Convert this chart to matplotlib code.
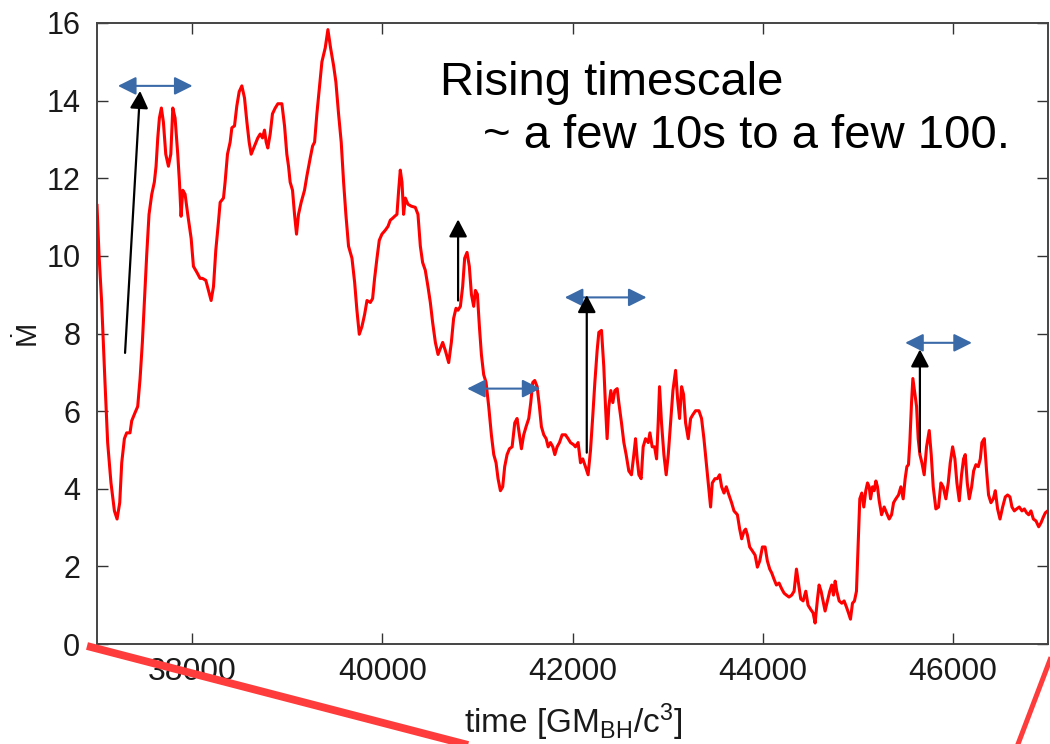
import matplotlib
matplotlib.use('Agg')
import matplotlib.pyplot as plt
from matplotlib.patches import FancyArrowPatch
from matplotlib.lines import Line2D
from matplotlib import font_manager

# ---------------- data ----------------
time = [37000, 37021, 37049, 37084, 37112, 37147, 37183, 37211, 37239, 37260,
        37288, 37312, 37347, 37365, 37400, 37428, 37453, 37477, 37498, 37523,
        37547, 37576, 37603, 37621, 37639, 37656, 37677, 37698, 37723, 37751,
        37776, 37797, 37821, 37849, 37867, 37884, 37902, 37926, 37954, 37990,
        38014, 38049, 38084, 38109, 38144, 38172, 38200, 38225, 38249, 38277,
        38295, 38330, 38347, 38372, 38400, 38418, 38446, 38470, 38495, 38523,
        38551, 38576, 38600, 38621, 38656,
        38691, 38716, 38740, 38761, 38779, 38796, 38821, 38845, 38874, 38902,
        38944, 38972, 38996, 39014, 39031, 39056, 39077, 39098, 39119, 39147,
        39182, 39207, 39242, 39267, 39288, 39312, 39337, 39365, 39400, 39428,
        39456, 39488, 39512, 39540, 39568, 39593, 39617, 39645, 39681, 39709,
        39733, 39758, 39786, 39814, 39839, 39874, 39898, 39919, 39944, 39968,
        39996, 40031, 40060, 40084, 40109, 40130, 40154, 40172, 40189, 40207,
        40224, 40242, 40270, 40305,
        40347, 40375, 40400, 40424, 40452, 40480, 40505, 40529, 40558, 40586,
        40610, 40635, 40663, 40698, 40726, 40750, 40775, 40796, 40821, 40845,
        40866, 40891, 40915, 40937, 40961, 40979, 41000, 41021, 41042, 41066,
        41091, 41119, 41147, 41172, 41196, 41217, 41242, 41266, 41287, 41312,
        41337, 41365, 41393, 41417, 41442, 41463, 41487, 41512, 41540, 41561,
        41582, 41603, 41628, 41652, 41673, 41698, 41723, 41744, 41768, 41793,
        41814, 41838, 41863, 41891, 41926, 41954, 41979, 42014,
        42031, 42059, 42084, 42108, 42136, 42164, 42189, 42214, 42235, 42259,
        42277, 42305, 42329, 42347, 42364, 42382, 42403, 42424, 42445, 42470,
        42487, 42515, 42540, 42564, 42592, 42620, 42645, 42663, 42680, 42698,
        42722, 42743, 42768, 42796, 42814, 42838, 42863, 42884, 42901, 42915,
        42936, 42961, 42985, 43007, 43031, 43056, 43084, 43105, 43126, 43147,
        43168, 43189, 43217, 43242, 43266, 43294, 43329, 43357, 43382, 43407,
        43428, 43452, 43470, 43498, 43522, 43547, 43568, 43593, 43617, 43645,
        43673, 43698,
        43734, 43758, 43779, 43804, 43821, 43839, 43863, 43891, 43920, 43944,
        43969, 43997, 44025, 44049, 44074, 44095, 44119, 44144, 44172, 44200,
        44225, 44249, 44277, 44305, 44330, 44355, 44376, 44400, 44425, 44453,
        44477, 44502, 44530, 44551, 44576, 44593, 44614, 44635, 44656, 44681,
        44705, 44726, 44744, 44762, 44779, 44804, 44832, 44856, 44881, 44902,
        44923, 44944, 44965, 44986, 45004, 45021, 45042, 45063, 45084, 45102,
        45120, 45134, 45155, 45172, 45190, 45207, 45225, 45250, 45277, 45302,
        45330, 45355, 45376,
        45400, 45428, 45453, 45477, 45498, 45516, 45533, 45547, 45565, 45579,
        45596, 45618, 45635, 45653, 45674, 45698, 45723, 45751, 45772, 45793,
        45821, 45849, 45874, 45898, 45926, 45951, 45972, 45997, 46021, 46042,
        46067, 46091, 46112, 46130, 46151, 46172, 46197, 46218, 46242, 46267,
        46288, 46305, 46330, 46354, 46375, 46400, 46425, 46446, 46470, 46495,
        46523, 46551, 46575, 46600, 46621, 46646, 46670, 46698, 46726, 46751,
        46775, 46797, 46821, 46846, 46874, 46902, 46926, 46951, 46972, 46997]

mdot = [11.30, 10.04, 8.80, 6.74, 5.19, 4.15, 3.43, 3.22, 3.64, 4.67,
        5.29, 5.44, 5.44, 5.75, 5.96, 6.12, 6.84, 7.77, 8.80, 10.04,
        11.07, 11.59, 11.90, 12.31, 13.04, 13.55, 13.81, 13.45, 12.62, 12.31,
        12.62, 13.81, 13.55, 12.62, 11.90, 11.02, 11.69, 11.59, 11.07, 10.45,
        9.73, 9.58, 9.42, 9.42, 9.37, 9.11, 8.85, 9.21, 10.14, 10.87,
        11.38, 11.49, 11.90, 12.62, 12.93, 13.30, 13.35, 13.86, 14.23, 14.38,
        14.07, 13.45, 12.93, 12.62, 12.83,
        13.04, 13.14, 13.04, 13.24, 12.93, 12.78, 13.14, 13.66, 13.81, 13.92,
        13.92, 13.35, 12.62, 12.31, 11.90, 11.69, 11.07, 10.56, 11.07, 11.38,
        11.69, 12.06, 12.52, 12.83, 12.93, 13.66, 14.28, 15.00, 15.36, 15.83,
        15.36, 14.90, 14.48, 13.66, 12.93, 11.90, 11.07, 10.25, 9.94, 9.32,
        8.60, 7.98, 8.18, 8.49, 8.85, 8.80, 8.90, 9.42, 9.94, 10.40,
        10.56, 10.66, 10.76, 10.92, 10.97, 11.02, 11.07, 11.69, 12.21, 11.90,
        11.07, 11.49, 11.33, 11.28,
        11.25, 11.07, 10.25, 9.83, 9.63, 9.21, 8.80, 8.29, 7.77, 7.46,
        7.61, 7.77, 7.56, 7.25, 7.77, 8.39, 8.65, 8.60, 8.70, 9.21,
        9.94, 10.09, 9.73, 9.01, 8.70, 9.11, 9.01, 8.18, 7.46, 6.94,
        6.74, 6.12, 5.39, 4.88, 4.67, 4.26, 3.95, 4.05, 4.57, 4.88,
        5.03, 5.08, 5.70, 5.81, 5.39, 5.03, 5.39, 5.60, 5.81, 6.22,
        6.74, 6.79, 6.63, 6.12, 5.60, 5.39, 5.29, 5.08, 5.19, 5.08,
        4.88, 5.08, 5.19, 5.39, 5.39, 5.29, 5.19, 5.13,
        5.08, 5.19, 4.67, 4.77, 4.57, 4.36, 4.98, 5.91, 6.74, 7.56,
        8.03, 8.08, 7.15, 6.12, 5.29, 6.12, 6.53, 6.22, 6.53, 6.58,
        6.22, 5.70, 5.19, 4.88, 4.46, 4.36, 4.88, 5.29, 4.77, 4.36,
        4.26, 5.08, 5.29, 5.19, 5.44, 5.08, 5.08, 4.77, 5.70, 6.63,
        5.70, 4.88, 4.36, 4.88, 5.70, 6.53, 7.05, 6.32, 5.81, 6.63,
        6.43, 5.70, 5.29, 5.81, 5.91, 6.01, 6.01, 5.81, 5.29, 4.67,
        4.15, 3.53, 4.15, 4.26, 4.26, 4.36, 4.05, 3.89, 4.05, 3.84,
        3.64, 3.43,
        3.33, 2.96, 2.71, 2.91, 2.96, 2.81, 2.50, 2.40, 2.29, 1.98,
        2.14, 2.50, 2.50, 2.14, 1.93, 1.83, 1.67, 1.52, 1.57, 1.42,
        1.31, 1.26, 1.21, 1.26, 1.36, 1.93, 1.57, 1.16, 1.11, 1.36,
        1.00, 0.90, 0.80, 0.54, 1.16, 1.52, 1.36, 1.11, 0.85, 1.11,
        1.36, 1.52, 1.26, 1.62, 1.36, 1.11, 1.05, 1.11, 0.95, 0.80,
        0.64, 1.05, 1.11, 1.36, 2.60, 3.74, 3.89, 3.53, 3.95, 4.15,
        4.05, 3.74, 4.05, 3.95, 4.20, 4.05, 3.69, 3.33, 3.53, 3.38,
        3.22, 3.33, 3.64,
        3.74, 3.84, 4.05, 3.74, 4.26, 4.57, 4.62, 5.19, 6.22, 6.84,
        6.53, 6.12, 5.29, 4.88, 4.67, 4.36, 5.08, 5.50, 4.88, 4.05,
        3.48, 3.53, 4.15, 4.05, 3.74, 4.15, 4.67, 5.08, 4.77, 4.15,
        3.69, 4.36, 4.77, 4.88, 4.15, 3.74, 4.05, 4.46, 4.62, 4.57,
        4.77, 5.19, 5.29, 4.46, 3.84, 3.64, 3.74, 3.95, 3.48, 3.22,
        3.53, 3.79, 3.84, 3.79, 3.53, 3.43, 3.48, 3.53, 3.43, 3.48,
        3.38, 3.33, 3.43, 3.22, 3.17, 3.02, 3.12, 3.27, 3.38, 3.43]

x_ticks = [38000, 40000, 42000, 44000, 46000]
y_ticks = [0, 2, 4, 6, 8, 10, 12, 14, 16]

# rise arrows: (t_start, mdot_start, t_end, mdot_end)
rise_arrows = [(37295, 7.50, 37453, 14.25),
               (40797, 8.85, 40797, 10.94),
               (42150, 4.93, 42150, 8.99),
               (45653, 4.95, 45653, 7.59)]
# time-span arrows: (t_left, t_right, mdot)
span_arrows = [(37220, 38005, 14.38),
               (40892, 41663, 6.58),
               (41919, 42779, 8.93),
               (45498, 46200, 7.76)]

title_line1 = "Rising timescale"
title_line2 = "~ a few 10s to a few 100."

# ---------------- fonts ----------------
names = {f.name for f in font_manager.fontManager.ttflist}
narrow = 'Liberation Sans Narrow' if 'Liberation Sans Narrow' in names else 'Liberation Sans'
plt.rcParams['font.family'] = [narrow, 'DejaVu Sans']
plt.rcParams['mathtext.fontset'] = 'custom'
plt.rcParams['mathtext.rm'] = narrow
plt.rcParams['mathtext.it'] = narrow
plt.rcParams['mathtext.bf'] = narrow

W, H = 1050, 744
fig = plt.figure(figsize=(W / 100, H / 100), dpi=100)
ax = fig.add_axes([97 / W, 1 - 644 / H, (1048 - 97) / W, (644 - 23) / H])

ax.plot(time, mdot, color='#ff0000', lw=2.2, zorder=2)

ax.set_xlim(37000, 47000)
ax.set_ylim(0, 16)
ax.set_xticks(x_ticks)
ax.set_xticklabels([str(v) for v in x_ticks])
ax.set_yticks(y_ticks)
ax.set_yticklabels([str(v) for v in y_ticks])
ax.tick_params(axis='both', which='both', direction='in', top=True, right=True,
               length=8, width=1.0, color='#333333')
ax.tick_params(axis='x', labelsize=23, pad=9, labelcolor='#1a1a1a')
ax.tick_params(axis='y', labelsize=22, pad=12, labelcolor='#1a1a1a')
for s in ax.spines.values():
    s.set_color('#444444')
    s.set_linewidth(1.4)

# arrows
black = '#000000'
blue = '#3b6aa9'
for t0, v0, t1, v1 in rise_arrows:
    a = FancyArrowPatch((t0, v0), (t1, v1), arrowstyle='-|>,head_length=10.5,head_width=5.5',
                        mutation_scale=1, color=black, lw=1.6, shrinkA=0, shrinkB=0, zorder=5)
    ax.add_patch(a)
for t0, t1, v in span_arrows:
    a = FancyArrowPatch((t0, v), (t1, v), arrowstyle='<|-|>,head_length=11,head_width=5.5',
                        mutation_scale=1, color=blue, lw=1.5, shrinkA=0, shrinkB=0, zorder=4)
    ax.add_patch(a)

# texts
fig.text(440 / W, 1 - 95 / H, title_line1, fontsize=34, family=['Liberation Sans', 'DejaVu Sans'],
         ha='left', va='baseline', color='#000000')
fig.text(483 / W, 1 - 148 / H, title_line2, fontsize=34, family=['Liberation Sans', 'DejaVu Sans'],
         ha='left', va='baseline', color='#000000')

fig.text(27 / W, 1 - 333 / H, '\u1E40', fontsize=21, rotation=90,
         family=['Liberation Sans', 'DejaVu Sans'], ha='center', va='center', color='#1a1a1a')
fig.text(573 / W, 1 - 733 / H, r'time [GM$_{\mathrm{BH}}$/c$^{\mathrm{3}}$]', fontsize=24,
         ha='center', va='baseline', color='#1a1a1a')

# red overlay strokes (figure decoration)
fig.add_artist(Line2D([87 / W, 495 / W], [1 - 646 / H, 1 - 752 / H], transform=fig.transFigure,
                      color='#fe3c3c', lw=5.6, solid_capstyle='butt', zorder=10))
fig.add_artist(Line2D([1053 / W, 1015 / W], [1 - 652 / H, 1 - 752 / H], transform=fig.transFigure,
                      color='#fe3c3c', lw=3.6, solid_capstyle='butt', zorder=10))

fig.savefig('out.png', dpi=100)
